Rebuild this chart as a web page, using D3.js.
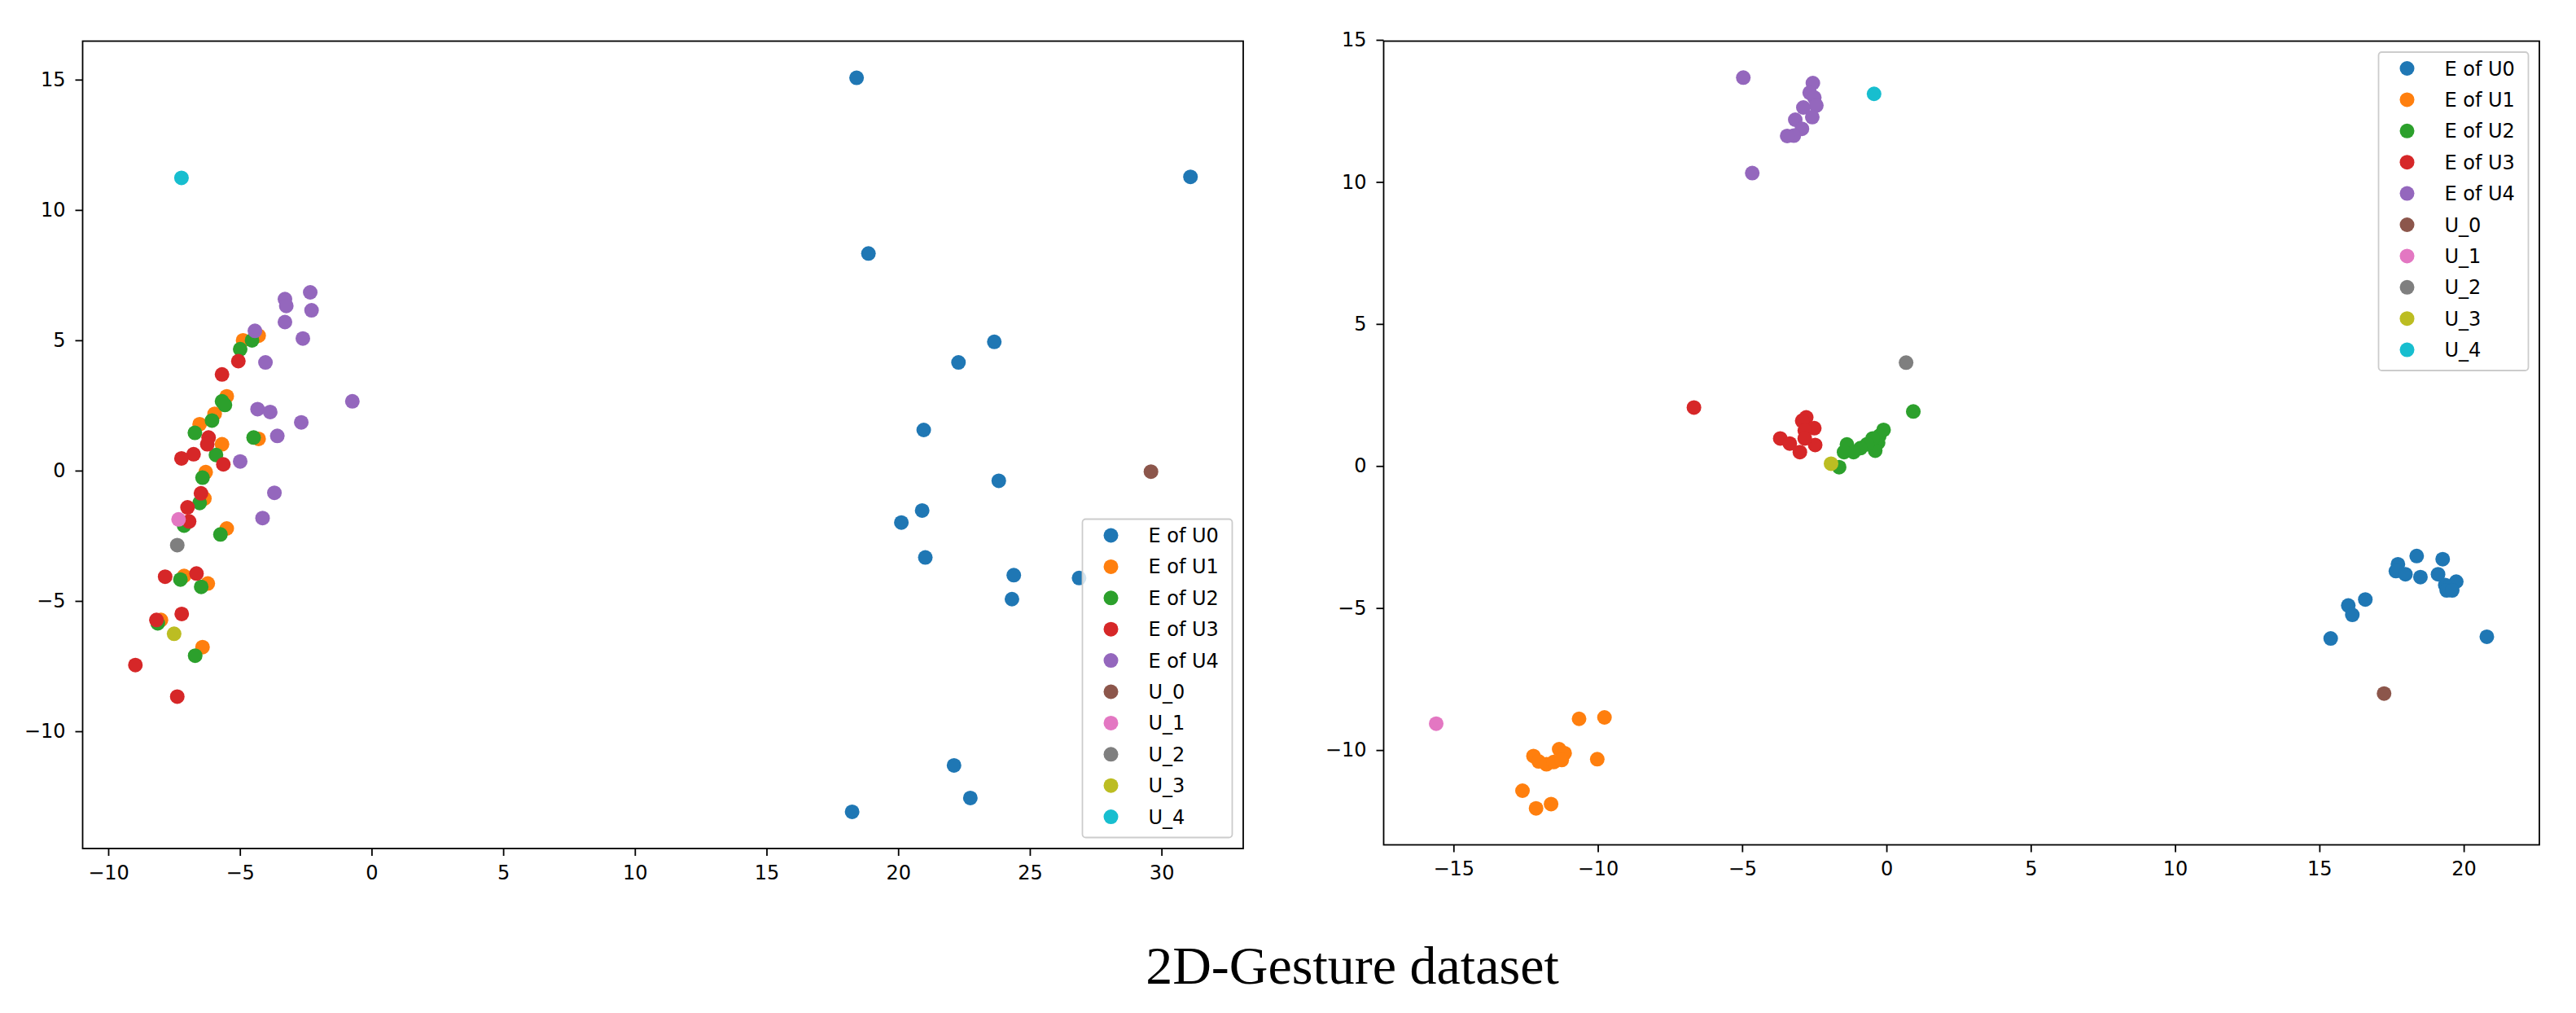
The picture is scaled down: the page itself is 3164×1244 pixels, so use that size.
<!DOCTYPE html>
<html>
<head>
<meta charset="utf-8">
<script src="https://cdn.jsdelivr.net/npm/d3@7"></script>
<style>
  html, body { margin: 0; padding: 0; background: #fff; }
  svg { display: block; }
</style>
</head>
<body>
<div id="chart"></div>
<script>
// ---------------- data ----------------
const seriesLabels = ["E of U0", "E of U1", "E of U2", "E of U3", "E of U4", "U_0", "U_1", "U_2", "U_3", "U_4"];
const palette = ["#1f77b4", "#ff7f0e", "#2ca02c", "#d62728", "#9467bd", "#8c564b", "#e377c2", "#7f7f7f", "#bcbd22", "#17becf"];

// left panel
const leftE0 = [[18.42, 15.07], [31.10, 11.27], [18.87, 8.33], [23.65, 4.94], [22.29, 4.15], [20.97, 1.56],
  [23.82, -0.39], [20.91, -1.53], [20.12, -1.99], [21.03, -3.33], [24.39, -4.01], [24.32, -4.93],
  [26.87, -4.12], [22.12, -11.31], [22.74, -12.56], [18.25, -13.09]];
const leftE1 = [[-4.88, 5.00], [-4.29, 5.18], [-5.50, 2.85], [-5.96, 2.18], [-6.53, 1.78], [-5.68, 1.01],
  [-4.29, 1.22], [-6.30, -0.06], [-6.35, -1.07], [-5.50, -2.22], [-7.12, -4.04], [-6.22, -4.33],
  [-8.00, -5.73], [-6.42, -6.77]];
const leftE2 = [[-4.54, 5.00], [-4.99, 4.66], [-5.68, 2.66], [-5.57, 2.52], [-6.06, 1.92], [-6.71, 1.45],
  [-4.48, 1.27], [-5.91, 0.60], [-6.42, -0.27], [-6.53, -1.24], [-7.12, -2.11], [-5.74, -2.45],
  [-7.26, -4.18], [-6.47, -4.46], [-8.12, -5.86], [-6.70, -7.10]];
const leftE3 = [[-5.06, 4.20], [-5.68, 3.69], [-6.19, 1.27], [-6.24, 1.01], [-6.76, 0.63], [-7.22, 0.47],
  [-5.63, 0.24], [-6.48, -0.87], [-6.99, -1.41], [-6.93, -1.95], [-7.84, -4.07], [-6.65, -3.95],
  [-8.17, -5.73], [-7.21, -5.50], [-8.97, -7.46], [-7.38, -8.67]];
const leftE4 = [[-2.33, 6.84], [-3.29, 6.58], [-3.24, 6.32], [-2.28, 6.15], [-3.29, 5.70], [-2.61, 5.07],
  [-4.43, 5.36], [-4.03, 4.15], [-0.73, 2.66], [-4.33, 2.36], [-3.85, 2.25], [-2.67, 1.85],
  [-3.58, 1.33], [-4.99, 0.35], [-3.69, -0.85], [-4.14, -1.82]];
const leftU = [[29.60, -0.04], [-7.33, -1.87], [-7.38, -2.86], [-7.50, -6.26], [-7.22, 11.23]];

// right panel
const rightE0 = [[18.37, -3.17], [19.27, -3.28], [17.72, -3.46], [17.65, -3.70], [17.98, -3.81], [18.50, -3.91],
  [19.11, -3.81], [19.74, -4.07], [19.36, -4.19], [19.41, -4.38], [19.60, -4.38], [16.59, -4.70],
  [16.00, -4.91], [16.14, -5.24], [15.39, -6.07], [20.80, -6.01]];
const rightE1 = [[-10.65, -8.90], [-9.77, -8.85], [-10.02, -10.32], [-12.23, -10.21], [-12.05, -10.40],
  [-11.78, -10.50], [-11.53, -10.42], [-11.34, -9.97], [-11.15, -10.11], [-11.25, -10.35],
  [-12.61, -11.43], [-12.14, -12.05], [-11.62, -11.90]];
const rightE2 = [[0.93, 1.92], [-0.10, 1.27], [-0.25, 1.06], [-0.29, 0.82], [-0.39, 0.54], [-0.48, 0.97],
  [-0.67, 0.77], [-0.90, 0.63], [-1.14, 0.49], [-1.37, 0.76], [-1.47, 0.49], [-1.64, -0.04]];
const rightE3 = [[-6.67, 2.06], [-2.78, 1.71], [-2.92, 1.59], [-2.50, 1.33], [-2.83, 1.25], [-3.68, 0.97],
  [-3.35, 0.79], [-2.47, 0.74], [-3.00, 0.49], [-2.83, 0.97]];
const rightE4 = [[-4.96, 13.67], [-4.65, 10.31], [-2.55, 13.48], [-2.66, 13.14], [-2.50, 12.97], [-2.43, 12.69],
  [-2.88, 12.62], [-2.57, 12.28], [-3.16, 12.19], [-2.93, 11.87], [-3.21, 11.63], [-3.44, 11.62]];
const rightU = [[17.24, -8.01], [-15.60, -9.07], [0.68, 3.64], [-1.92, 0.08], [-0.43, 13.10]];

const leftXTicks = [-10, -5, 0, 5, 10, 15, 20, 25, 30];
const leftYTicks = [-10, -5, 0, 5, 10, 15];
const rightXTicks = [-15, -10, -5, 0, 5, 10, 15, 20];
const rightYTicks = [-10, -5, 0, 5, 10, 15];

const title = "2D-Gesture dataset";

// ---------------- layout ----------------
const W = 3164, H = 1244;
const svg = d3.select("#chart").append("svg")
  .attr("width", W)
  .attr("height", H)
  .style("background", "#fff");

const FONT = "'DejaVu Sans', sans-serif";
const R = 9;

// embeddings: arrays of points, users: one point each
function drawPanel(box, embeddings, users, xTicks, yTicks, legendCorner) {
  const all = embeddings.flat().concat(users);
  const pad = (lo, hi) => { const r = hi - lo; return [lo - r * 0.05, hi + r * 0.05]; };
  const x = d3.scaleLinear()
    .domain(pad(d3.min(all, d => d[0]), d3.max(all, d => d[0])))
    .range([box.left, box.right]);
  const y = d3.scaleLinear()
    .domain(pad(d3.min(all, d => d[1]), d3.max(all, d => d[1])))
    .range([box.bottom, box.top]);

  const g = svg.append("g");

  // points, in the order they were plotted
  const groups = embeddings.concat(users.map(p => [p]));
  groups.forEach((pts, i) => {
    g.append("g")
      .selectAll("circle")
      .data(pts)
      .join("circle")
      .attr("cx", d => x(d[0]))
      .attr("cy", d => y(d[1]))
      .attr("r", R)
      .attr("fill", palette[i]);
  });

  // axes
  const xAxis = g.append("g")
    .attr("transform", `translate(0,${box.bottom})`)
    .call(d3.axisBottom(x).tickValues(xTicks).tickSize(9).tickPadding(11.5).tickFormat(d3.format("d")));
  const yAxis = g.append("g")
    .attr("transform", `translate(${box.left},0)`)
    .call(d3.axisLeft(y).tickValues(yTicks).tickSize(9).tickPadding(12).tickFormat(d3.format("d")));
  [xAxis, yAxis].forEach(a => {
    a.select(".domain").remove();
    a.selectAll(".tick line").attr("stroke", "#000").attr("stroke-width", 1.8);
    a.selectAll(".tick text")
      .attr("fill", "#000")
      .style("font-family", FONT)
      .style("font-size", "24px");
  });

  // frame
  g.append("rect")
    .attr("x", box.left)
    .attr("y", box.top)
    .attr("width", box.right - box.left)
    .attr("height", box.bottom - box.top)
    .attr("fill", "none")
    .attr("stroke", "#000")
    .attr("stroke-width", 1.8);

  // legend
  const lw = 184, lh = 391, inset = 13.5;
  const lx = box.right - inset - lw;
  const ly = legendCorner === "lower" ? box.bottom - inset - lh : box.top + inset;
  const leg = g.append("g").attr("transform", `translate(${lx},${ly})`);
  leg.append("rect")
    .attr("width", lw)
    .attr("height", lh)
    .attr("rx", 4)
    .attr("fill", "#fff")
    .attr("fill-opacity", 0.8)
    .attr("stroke", "#cccccc")
    .attr("stroke-width", 1.8);
  const rows = leg.selectAll("g.row")
    .data(seriesLabels)
    .join("g")
    .attr("class", "row")
    .attr("transform", (d, i) => `translate(0,${28.5 + i * 38.4})`);
  rows.append("circle")
    .attr("cx", 35)
    .attr("cy", -8.5)
    .attr("r", R)
    .attr("fill", (d, i) => palette[i]);
  rows.append("text")
    .attr("x", 81)
    .attr("y", 0)
    .style("font-family", FONT)
    .style("font-size", "24px")
    .attr("fill", "#000")
    .text(d => d);
}

drawPanel({ left: 101.5, right: 1527, top: 50.5, bottom: 1042 },
  [leftE0, leftE1, leftE2, leftE3, leftE4], leftU,
  leftXTicks, leftYTicks, "lower");

drawPanel({ left: 1699.5, right: 3119, top: 50.5, bottom: 1037.5 },
  [rightE0, rightE1, rightE2, rightE3, rightE4], rightU,
  rightXTicks, rightYTicks, "upper");

svg.append("text")
  .attr("x", 1661)
  .attr("y", 1208)
  .attr("text-anchor", "middle")
  .style("font-family", "'Liberation Serif', 'Times New Roman', serif")
  .style("font-size", "66px")
  .attr("fill", "#000")
  .text(title);
</script>
</body>
</html>
